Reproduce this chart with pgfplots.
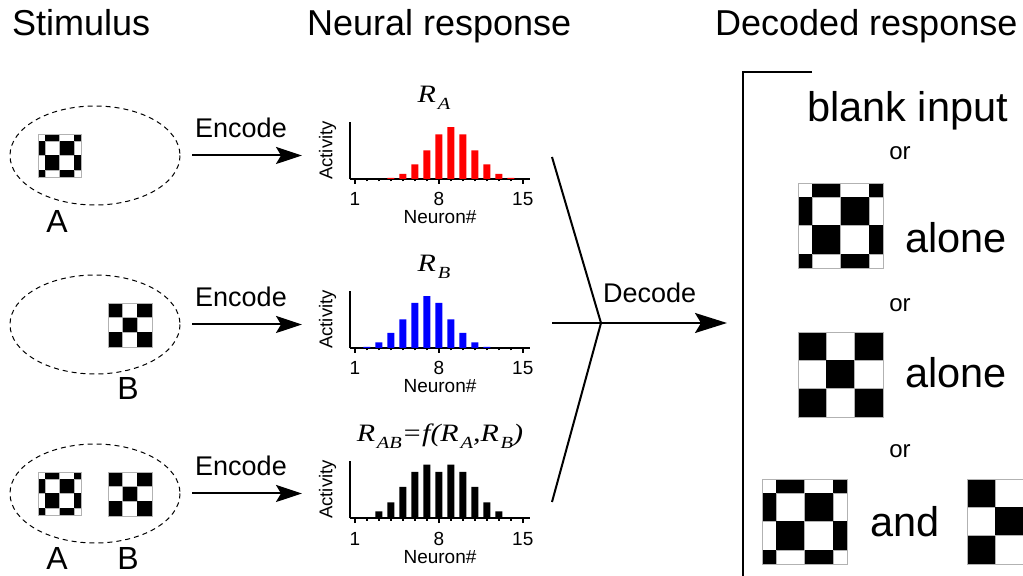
\documentclass[border=0pt]{standalone}
\usepackage{pgfplots}
\pgfplotsset{compat=1.18}
\usepackage{graphicx}
\usepackage{fontspec}
\setmainfont{Liberation Sans}
\newfontfamily\serifit{Liberation Serif}
\usetikzlibrary{arrows.meta}

\newcommand{\fs}[1]{\fontsize{#1bp}{#1bp}\selectfont}
\newcommand{\subtext}[1]{\kern1.5bp\lower7bp\hbox{\fs{17}#1}}

% half-cell shifted checkerboard (pattern A), top-left corner #1,#2, side #3
\newcommand{\checkA}[3]{%
  \foreach \i/\ya/\yb in {0/0/0.1667,1/0.1667/0.5,2/0.5/0.8333,3/0.8333/1}{%
    \foreach \j/\xa/\xb in {0/0/0.1667,1/0.1667/0.5,2/0.5/0.8333,3/0.8333/1}{%
      \pgfmathtruncatemacro{\cellodd}{mod(\i+\j,2)}%
      \ifnum\cellodd=1\relax
        \fill[black] ({#1+\xa*#3},{#2+\ya*#3}) rectangle ({#1+\xb*#3},{#2+\yb*#3});%
      \else
        \draw[gray!60,line width=0.6bp] ({#1+\xa*#3},{#2+\ya*#3}) rectangle ({#1+\xb*#3},{#2+\yb*#3});%
      \fi
    }}%
  \draw[gray!60,line width=0.6bp] (#1,#2) rectangle ({#1+#3},{#2+#3});%
}
% plain 3x3 checkerboard (pattern B)
\newcommand{\checkB}[3]{%
  \foreach \i/\ya/\yb in {0/0/0.3333,1/0.3333/0.6667,2/0.6667/1}{%
    \foreach \j/\xa/\xb in {0/0/0.3333,1/0.3333/0.6667,2/0.6667/1}{%
      \pgfmathtruncatemacro{\cellodd}{mod(\i+\j,2)}%
      \ifnum\cellodd=0\relax
        \fill[black] ({#1+\xa*#3},{#2+\ya*#3}) rectangle ({#1+\xb*#3},{#2+\yb*#3});%
      \else
        \draw[gray!60,line width=0.6bp] ({#1+\xa*#3},{#2+\ya*#3}) rectangle ({#1+\xb*#3},{#2+\yb*#3});%
      \fi
    }}%
  \draw[gray!60,line width=0.6bp] (#1,#2) rectangle ({#1+#3},{#2+#3});%
}

\pgfplotsset{
  hist/.style={
    scale only axis, width=180bp, height=57bp,
    xmin=0.6, xmax=15.6, ymin=0, ymax=1.1,
    axis x line=bottom, axis y line=left,
    axis line style={-, line width=1.8bp},
    ytick=\empty,
    xtick={1,8,15}, minor xtick={2,...,14},
    tick align=outside,
    major tick length=5bp, minor tick length=2.5bp,
    every tick/.style={black, line width=1.8bp},
    /pgf/number format/assume math mode=true,
    xticklabel style={font=\fs{19}, anchor=base, yshift=-22bp},
    xlabel={Neuron\#}, ylabel={Activity},
    every axis x label/.style={at={(axis description cs:0.5,0)}, anchor=base, yshift=-45bp, font=\fs{19}},
    every axis y label/.style={at={(axis description cs:-0.125,0.5)}, rotate=90, anchor=center, font=\fs{18.5}},
    title style={at={(axis description cs:0.5,1)}, anchor=base, yshift=14bp},
    ybar, bar width=7bp,
    clip=false,
  }
}

\begin{document}
\begin{tikzpicture}
\useasboundingbox (0bp,0bp) rectangle (1023bp,576bp);

% ---------- diagram (pixel-style coordinates, y downward) ----------
\begin{scope}[x=1bp, y=-1bp, yshift=576bp]
  % column headings
  \node[anchor=base west, inner sep=0] at (12,36) {\fs{36}Stimulus};
  \node[anchor=base west, inner sep=0] at (307,36) {\fs{36}Neural response};
  \node[anchor=base west, inner sep=0] at (715,36) {\fs{36}Decoded response};

  % stimuli
  \draw[dash pattern=on 5bp off 4bp, line width=1bp] (95,155.5) ellipse [x radius=85, y radius=49.5];
  \draw[dash pattern=on 5bp off 4bp, line width=1bp] (95,324.5) ellipse [x radius=85, y radius=49.5];
  \draw[dash pattern=on 5bp off 4bp, line width=1bp] (95,493.5) ellipse [x radius=85, y radius=49.5];
  \checkA{38}{134}{43}
  \checkB{108}{303}{44}
  \checkA{38}{472}{43}
  \checkB{108}{472}{44}
  \node[anchor=base, inner sep=0] at (57,233) {\fs{32}A};
  \node[anchor=base, inner sep=0] at (128,400) {\fs{32}B};
  \node[anchor=base, inner sep=0] at (57,570) {\fs{32}A};
  \node[anchor=base, inner sep=0] at (128,570) {\fs{32}B};

  % encoding arrows
  \foreach \yy in {155.5,324.5,493.5}{
    \draw[line width=2bp, -{Stealth[length=26bp,width=17bp,inset=5bp]}] (192,\yy) -- (302,\yy);
    \node[anchor=base, inner sep=0] at (241,\yy-18) {\fs{27}Encode};
  }

  % decoding
  \draw[line width=2bp] (552,157) -- (601,323) -- (552,502);
  \draw[line width=2bp, -{Stealth[length=32bp,width=20bp,inset=6bp]}] (552,323) -- (727,323);
  \node[anchor=base west, inner sep=0] at (603,303) {\fs{27}Decode};

  % decoded alternatives
  \draw[line width=2bp] (812,72) -- (743,72) -- (743,576);
  \node[anchor=base west, inner sep=0] at (807,122) {\fs{41.5}blank input};
  \node[anchor=base, inner sep=0] at (900,160) {\fs{24}or};
  \checkA{798}{183}{85}
  \node[anchor=base west, inner sep=0] at (905,253) {\fs{41.5}alone};
  \node[anchor=base, inner sep=0] at (900,312) {\fs{24}or};
  \checkB{798}{332}{85}
  \node[anchor=base west, inner sep=0] at (905,388) {\fs{41.5}alone};
  \node[anchor=base, inner sep=0] at (900,458) {\fs{24}or};
  \checkA{762}{479}{85}
  \node[anchor=base west, inner sep=0] at (870,537) {\fs{41.5}and};
  \begin{scope}
    \clip (960,470) rectangle (1023,570);
    \checkB{967}{479}{85}
  \end{scope}
\end{scope}

% ---------- population responses ----------
\begin{axis}[hist, at={(350bp,397bp)}, anchor=south west,
  title={\serifit\itshape\fs{25}\scalebox{1.2}[1]{R\subtext{A}}},
  title style={xshift=-6bp}]
  \addplot[fill=red, draw=none] coordinates {
    (4,0.02) (5,0.10) (6,0.28) (7,0.55) (8,0.86) (9,1.00)
    (10,0.86) (11,0.55) (12,0.28) (13,0.10) (14,0.02)};
\end{axis}

\begin{axis}[hist, at={(350bp,228bp)}, anchor=south west,
  title={\serifit\itshape\fs{25}\scalebox{1.2}[1]{R\subtext{B}}},
  title style={xshift=-6bp}]
  \addplot[fill=blue, draw=none] coordinates {
    (2,0.02) (3,0.11) (4,0.29) (5,0.55) (6,0.87) (7,1.00)
    (8,0.87) (9,0.55) (10,0.29) (11,0.11) (12,0.02)};
\end{axis}

\begin{axis}[hist, at={(350bp,58bp)}, anchor=south west,
  title={\serifit\itshape\fs{25}\scalebox{1.2}[1]{R\subtext{AB}=f(R\subtext{A},R\subtext{B})}}]
  \addplot[fill=black, draw=none] coordinates {
    (3,0.13) (4,0.30) (5,0.60) (6,0.89) (7,1.03) (8,0.89)
    (9,1.03) (10,0.89) (11,0.60) (12,0.30) (13,0.13)};
\end{axis}
\end{tikzpicture}
\end{document}
